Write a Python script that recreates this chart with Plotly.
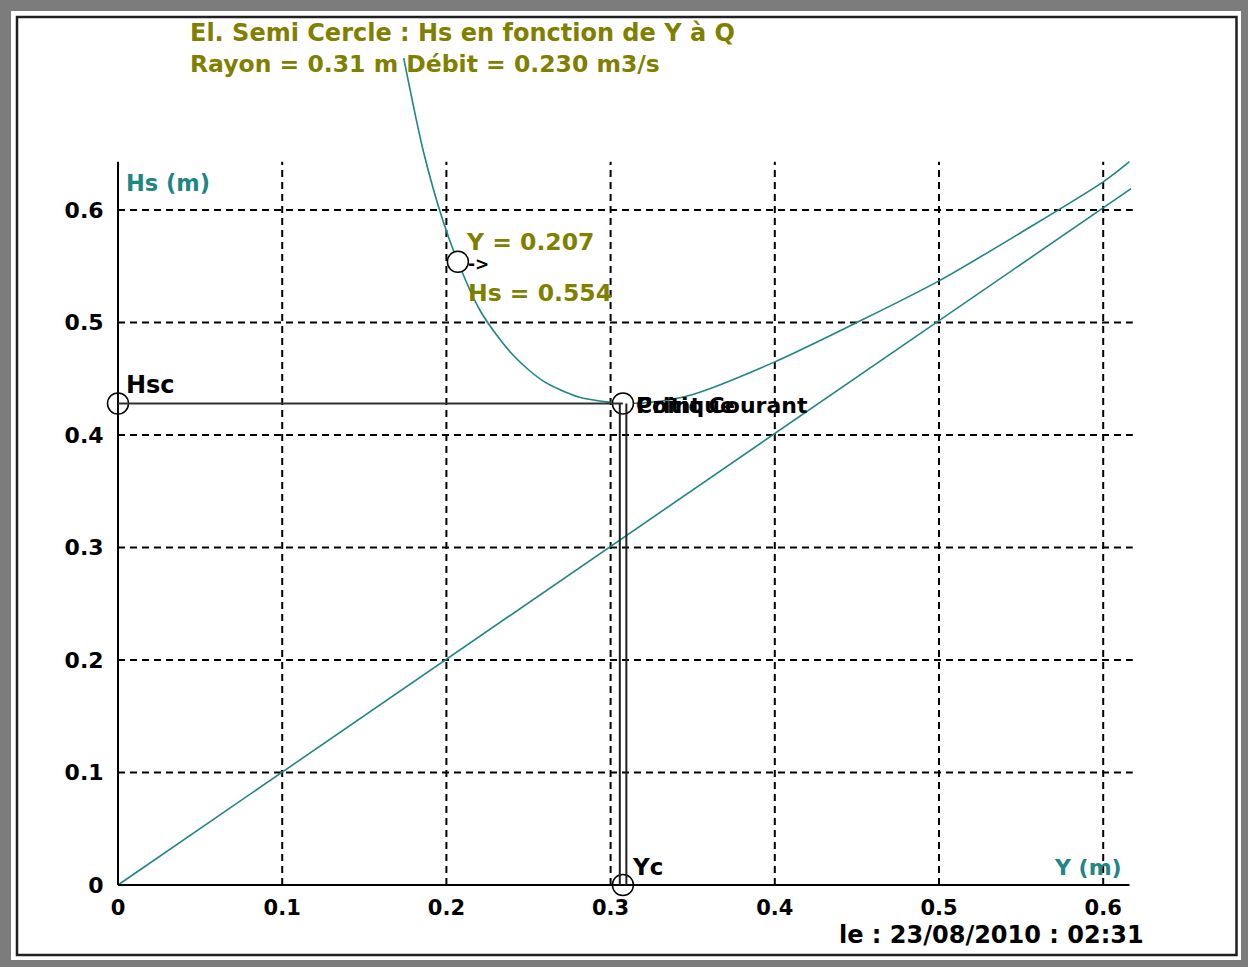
import plotly.graph_objects as go

# ---- data ----
Y_curve = [0.174, 0.186, 0.198, 0.207, 0.22, 0.23, 0.24, 0.25, 0.26, 0.28, 0.30, 0.31,
           0.33, 0.35, 0.40, 0.45, 0.50, 0.55, 0.60, 0.616]
Hs_curve = [0.735, 0.652, 0.590, 0.554, 0.512, 0.490, 0.472, 0.458, 0.447, 0.434, 0.429, 0.428,
            0.430, 0.436, 0.465, 0.500, 0.537, 0.580, 0.625, 0.643]
Y_diag = [0.0, 0.617]
Hs_diag = [0.0, 0.619]
Yc = 0.3075
Hsc = 0.428
Y_point = 0.207
Hs_point = 0.554
x_ticks = [0, 0.1, 0.2, 0.3, 0.4, 0.5, 0.6]
x_ticktext = ["0", "0.1", "0.2", "0.3", "0.4", "0.5", "0.6"]
y_ticks = [0, 0.1, 0.2, 0.3, 0.4, 0.5, 0.6]
y_ticktext = ["0", "0.1", "0.2", "0.3", "0.4", "0.5", "0.6"]
x_axis_end = 0.616
y_axis_end = 0.643

# ---- layout geometry (pixels) ----
W, H = 1248, 967
X0PX, XSCALE = 118, 1642.0
Y0PX, YSCALE = 885, 1125.0

def px(x):
    return x / W

def py(y):
    return 1 - y / H

TEAL = "#1f8585"
OLIVE = "#808000"
FONT = "DejaVu Sans"

fig = go.Figure()

# diagonal Hs = Y
fig.add_trace(go.Scatter(x=Y_diag, y=Hs_diag, mode="lines",
                         line=dict(color=TEAL, width=1.6), hoverinfo="skip"))
# specific energy curve
fig.add_trace(go.Scatter(x=Y_curve, y=Hs_curve, mode="lines",
                         line=dict(color=TEAL, width=1.6, shape="spline", smoothing=0.8),
                         hoverinfo="skip"))

shapes = []
# frame
shapes.append(dict(type="rect", xref="paper", yref="paper", x0=px(11), x1=px(1241),
                   y0=py(960), y1=py(11), fillcolor="white", line=dict(width=0), layer="below"))
shapes.append(dict(type="rect", xref="paper", yref="paper", x0=px(17), x1=px(1236.5),
                   y0=py(955), y1=py(17), fillcolor="white",
                   line=dict(color="#202020", width=2.5), layer="below"))
# grid lines
for v in x_ticks[1:]:
    shapes.append(dict(type="line", x0=v, x1=v, y0=0, y1=y_axis_end, xref="x", yref="y",
                       line=dict(color="black", width=2, dash="7px,5px"), layer="below"))
for v in y_ticks[1:]:
    shapes.append(dict(type="line", x0=0, x1=x_axis_end + 0.002, y0=v, y1=v, xref="x", yref="y",
                       line=dict(color="black", width=2, dash="7px,5px"), layer="below"))
# axes
shapes.append(dict(type="line", x0=0, x1=x_axis_end, y0=0, y1=0, xref="x", yref="y",
                   line=dict(color="black", width=2)))
shapes.append(dict(type="line", x0=0, x1=0, y0=0, y1=y_axis_end, xref="x", yref="y",
                   line=dict(color="black", width=2)))
# critical point lines
shapes.append(dict(type="line", x0=0, x1=Yc, y0=Hsc, y1=Hsc, xref="x", yref="y",
                   line=dict(color="#303030", width=2)))
for dx in (-0.0019, 0.0021):
    shapes.append(dict(type="line", x0=Yc + dx, x1=Yc + dx, y0=0, y1=Hsc, xref="x", yref="y",
                       line=dict(color="#202020", width=2)))
fig.update_layout(shapes=shapes)

# markers
fig.add_trace(go.Scatter(x=[0, Yc, Yc, Y_point], y=[Hsc, Hsc, 0, Hs_point], mode="markers",
                         marker=dict(size=21, color="white", line=dict(color="black", width=1.5)),
                         cliponaxis=False, hoverinfo="skip"))

ann = []
def txt(x, y, s, color="black", size=20, xanchor="left", bold=True):
    ann.append(dict(x=px(x), y=py(y), xref="paper", yref="paper", text=s, showarrow=False,
                    xanchor=xanchor, yanchor="middle",
                    font=dict(family=FONT, size=size, color=color,
                              weight="bold" if bold else "normal")))

txt(188, 33, "El. Semi Cercle : Hs en fonction de Y à Q", OLIVE, 24)
txt(188, 64, "Rayon = 0.31 m Débit = 0.230 m3/s", OLIVE, 23.5)
txt(124, 183, "Hs (m)", TEAL, 22.5)
txt(1124, 867, "Y (m)", TEAL, 22, xanchor="right")
txt(124, 385, "Hsc", "black", 24)
txt(630, 867, "Yc", "black", 23)
txt(464, 242, "Y = 0.207", OLIVE, 23.5)
txt(466, 264, "->", "black", 17)
txt(466, 293, "Hs = 0.554", OLIVE, 23.5)
txt(634, 405, "Critique", "black", 22)
txt(634, 405, "Point Courant", "black", 22)
txt(1146, 935, "le : 23/08/2010 : 02:31", "black", 24, xanchor="right")

fig.update_layout(
    width=W, height=H,
    margin=dict(l=0, r=0, t=0, b=0),
    paper_bgcolor="#7c7c7c", plot_bgcolor="rgba(0,0,0,0)",
    showlegend=False,
    annotations=ann,
    xaxis=dict(domain=[0, 1], range=[-X0PX / XSCALE, (W - X0PX) / XSCALE],
               showgrid=False, zeroline=False, showline=False,
               anchor="free", position=py(Y0PX),
               tickmode="array", tickvals=x_ticks, ticktext=x_ticktext,
               ticks="outside", ticklen=4, tickcolor="rgba(0,0,0,0)",
               tickfont=dict(family=FONT, size=21, color="black", weight="bold")),
    yaxis=dict(domain=[0, 1], range=[-(H - Y0PX) / YSCALE, Y0PX / YSCALE],
               showgrid=False, zeroline=False, showline=False,
               anchor="free", position=px(X0PX),
               tickmode="array", tickvals=y_ticks, ticktext=y_ticktext,
               ticks="outside", ticklen=10, tickcolor="rgba(0,0,0,0)",
               tickfont=dict(family=FONT, size=22, color="black", weight="bold")),
)

fig.write_html("out.html")
